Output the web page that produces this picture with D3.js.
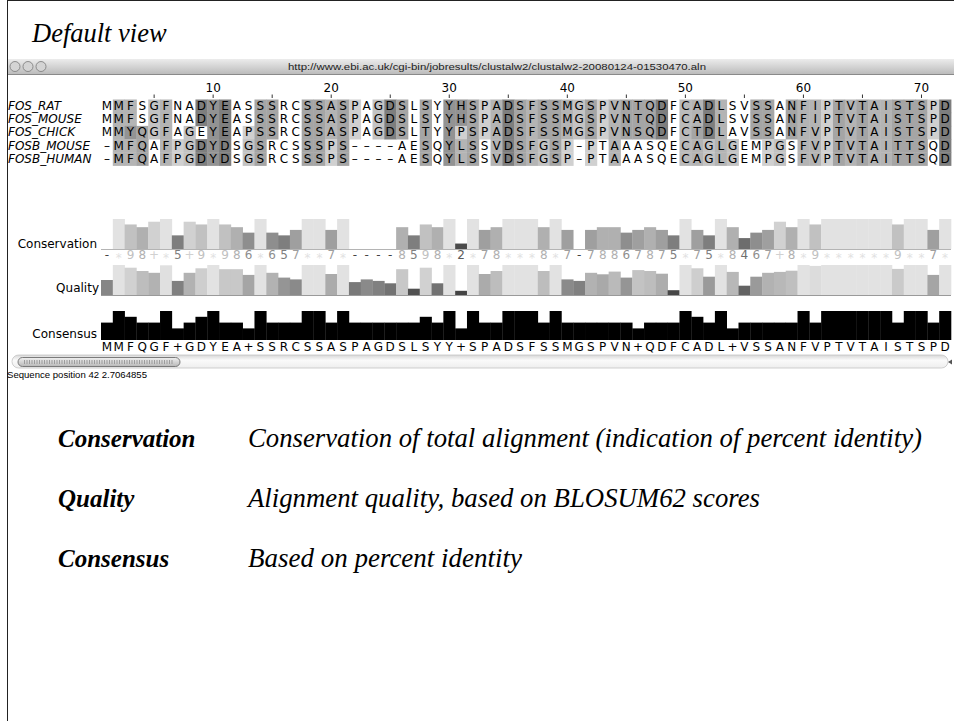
<!DOCTYPE html>
<html>
<head>
<meta charset="utf-8">
<script src="https://cdn.jsdelivr.net/npm/d3@7"></script>
<style>
  body { margin: 0; background: #fff; }
  svg { display: block; }
</style>
</head>
<body>
<div class="chart"></div>
<script>
// ---- data ----
const pageTitle = "Default view";
const windowUrl = "http://www.ebi.ac.uk/cgi-bin/jobresults/clustalw2/clustalw2-20080124-01530470.aln";
const statusText = "Sequence position 42  2.7064855";

const seqNames = ["FOS_RAT", "FOS_MOUSE", "FOS_CHICK", "FOSB_MOUSE", "FOSB_HUMAN"];
const seqResidues = [
  "MMFSGFNADYEASSSRCSSASPAGDSLSYYHSPADSFSSMGSPVNTQDFCADLSVSSANFIPTVTAISTSPD",
  "MMFSGFNADYEASSSRCSSASPAGDSLSYYHSPADSFSSMGSPVNTQDFCADLSVSSANFIPTVTAISTSPD",
  "MMYQGFAGEYEAPSSRCSSASPAGDSLTYYPSPADSFSSMGSPVNSQDFCTDLAVSSANFVPTVTAISTSPD",
  "-MFQAFPGDYDSGSRCSSSPS----AESQYLSSVDSFGSP-PTAAASQECAGLGEMPGSFVPTVTAITTSQD",
  "-MFQAFPGDYDSGSRCSSSPS----AESQYLSSVDSFGSP-PTAAASQECAGLGEMPGSFVPTVTAITTSQD"
];
// residue colour class of each cell (Clustal-style, printed in grey):
// . none, b hydrophobic, g polar, m negative, c aromatic, o glycine, y proline, p cysteine
const seqColourClass = [
  ".bb.ob..mcm..gg..ggbgy.omg.g.ccgybmgbggbogybgggm.pbmb..gg.gbbygbgbbgggym",
  ".bb.ob..mcm..gg..ggbgy.omg.g.ccgybmgbggbogybgggm.pbmb..gg.gbbygbgbbgggym",
  ".bcgob.o.cm.ygg..ggbgy.omg.g.cygybmgbggbogybgggm.pgmb..gg.gbbygbgbbgggym",
  ".bbg.byomcm.og...ggyg......g.cbg.bmgbogy.y.b.....pbobo..yo.bbygbgbbggg.m",
  ".bbg.byomcm.og...ggyg......g.cbg.bmgbogy.y.b.....pbobo..yo.bbygbgbbggg.m"
];

const rulerTicks = [5, 10, 15, 20, 25, 30, 35, 40, 45, 50, 55, 60, 65, 70];
const rulerLabels = [10, 20, 30, 40, 50, 60, 70];

const annotationNames = ["Conservation", "Quality", "Consensus"];
const conservationSymbols = "-*98+*5+9*986*657**7*----8598*2*78***8*7-78867875*75*8467+8*9******9**7*";
const conservationValues = [
  0, 11, 9, 8, 10, 11, 5, 10, 9, 11,
  9, 8, 6, 11, 6, 5, 7, 11, 11, 7,
  11, 0, 0, 0, 0, 8, 5, 9, 8, 11,
  2, 11, 7, 8, 11, 11, 11, 8, 11, 7,
  0, 7, 8, 8, 6, 7, 8, 7, 5, 11,
  7, 5, 11, 8, 4, 6, 7, 10, 8, 11,
  9, 11, 11, 11, 11, 11, 11, 9, 11, 11,
  7, 11
];
const qualityValues = [
  50, 100, 91, 80, 74, 99, 47, 74, 89, 100,
  86, 86, 67, 100, 74, 58, 52, 100, 100, 70,
  100, 43, 52, 47, 39, 86, 21, 91, 39, 100,
  14, 100, 70, 80, 100, 100, 100, 80, 100, 52,
  47, 74, 69, 78, 58, 83, 80, 71, 16, 100,
  89, 61, 100, 77, 31, 61, 74, 77, 81, 100,
  97, 100, 100, 100, 100, 100, 100, 87, 100, 100,
  67, 100
];
const consensusSymbols = "MMFQGF+GDYEA+SSRCSSASPAGDSLSYY+SPADSFSSMGSPVN+QDFCADL+VSSANFVPTVTAISTSPD";
const consensusPercent = [
  60, 100, 80, 60, 60, 100, 40, 60, 80, 100,
  60, 60, 40, 100, 60, 60, 60, 100, 100, 60,
  100, 60, 60, 60, 60, 60, 60, 80, 60, 100,
  40, 100, 60, 60, 100, 100, 100, 60, 100, 60,
  60, 60, 60, 60, 60, 40, 60, 60, 60, 100,
  80, 60, 100, 40, 60, 60, 60, 60, 60, 100,
  60, 100, 100, 100, 100, 100, 100, 60, 100, 100,
  60, 100
];

const legendTerms = ["Conservation", "Quality", "Consensus"];
const legendTexts = [
  "Conservation of total alignment (indication of percent identity)",
  "Alignment quality, based on BLOSUM62 scores",
  "Based on percent identity"
];

// ---- drawing ----
const W = 954, H = 721;
const seqFont = "'DejaVu Sans', Verdana, sans-serif";
const serif = "'Liberation Serif', 'Times New Roman', serif";

const svg = d3.select(".chart").append("svg")
  .attr("width", W).attr("height", H);

const defs = svg.append("defs");
const titleGrad = defs.append("linearGradient").attr("id", "titlebar").attr("x1", 0).attr("x2", 0).attr("y1", 0).attr("y2", 1);
titleGrad.append("stop").attr("offset", "0%").attr("stop-color", "#ececec");
titleGrad.append("stop").attr("offset", "100%").attr("stop-color", "#bcbcbc");
const trackGrad = defs.append("linearGradient").attr("id", "track").attr("x1", 0).attr("x2", 0).attr("y1", 0).attr("y2", 1);
trackGrad.append("stop").attr("offset", "0%").attr("stop-color", "#d8d8d8");
trackGrad.append("stop").attr("offset", "40%").attr("stop-color", "#fafafa");
trackGrad.append("stop").attr("offset", "100%").attr("stop-color", "#eeeeee");
const thumbGrad = defs.append("linearGradient").attr("id", "thumb").attr("x1", 0).attr("x2", 0).attr("y1", 0).attr("y2", 1);
thumbGrad.append("stop").attr("offset", "0%").attr("stop-color", "#f0f0f0");
thumbGrad.append("stop").attr("offset", "100%").attr("stop-color", "#b8b8b8");

// slide frame
svg.append("line").attr("x1", 7.5).attr("x2", 7.5).attr("y1", 0).attr("y2", H).attr("stroke", "#222");
svg.append("line").attr("x1", 7).attr("x2", W).attr("y1", 0.5).attr("y2", 0.5).attr("stroke", "#222");

svg.append("text")
  .attr("x", 32).attr("y", 42)
  .style("font-family", serif).style("font-style", "italic").style("font-size", "26.5px")
  .text(pageTitle);

// window title bar
const win = svg.append("g").attr("class", "window");
win.append("rect").attr("x", 8).attr("y", 59).attr("width", W - 8).attr("height", 15)
  .attr("fill", "url(#titlebar)");
win.append("line").attr("x1", 8).attr("x2", W).attr("y1", 74.5).attr("y2", 74.5).attr("stroke", "#8a8a8a");
win.selectAll("circle").data([15, 28, 41]).enter().append("circle")
  .attr("cx", d => d).attr("cy", 66.5).attr("r", 5)
  .attr("fill", "#d4d4d4").attr("stroke", "#7a7a7a").attr("stroke-width", 0.8);
win.append("text")
  .attr("x", 288).attr("y", 69.5)
  .attr("textLength", 418).attr("lengthAdjust", "spacingAndGlyphs")
  .style("font-family", "'Liberation Sans', Arial, sans-serif").style("font-size", "9px").style("fill", "#222")
  .text(windowUrl);

// column scale
const cols = d3.range(1, seqResidues[0].length + 1);
const x = d3.scaleBand().domain(cols).range([101, 951]);
const bw = x.bandwidth();
const y = d3.scaleBand().domain(seqNames).range([99.5, 165.5]);

// ruler
const ruler = svg.append("g").attr("class", "ruler");
ruler.selectAll("line").data(rulerTicks).enter().append("line")
  .attr("x1", d => x(d) + bw / 2).attr("x2", d => x(d) + bw / 2)
  .attr("y1", 94.5).attr("y2", 98).attr("stroke", "#333");
ruler.selectAll("text").data(rulerLabels).enter().append("text")
  .attr("x", d => x(d) + bw / 2).attr("y", 92)
  .attr("text-anchor", "middle")
  .style("font-family", seqFont).style("font-size", "12px")
  .text(d => d);

// sequence names
svg.append("g").selectAll("text").data(seqNames).enter().append("text")
  .attr("x", 8).attr("y", d => y(d) + 10.5)
  .style("font-family", seqFont).style("font-style", "italic").style("font-size", "12px")
  .text(d => d);

// residues
const shade = d3.scaleOrdinal()
  .domain([".", "b", "g", "m", "c", "o", "y", "p"])
  .range(["#ffffff", "#b4b4b4", "#a5a5a5", "#7e7e7e", "#939393", "#c3c3c3", "#d0d0d0", "#bababa"]);
const cells = [];
seqNames.forEach((name, r) => {
  cols.forEach((c, i) => {
    cells.push({ name, col: c, res: seqResidues[r][i], cls: seqColourClass[r][i] });
  });
});
const resG = svg.append("g").attr("class", "residues");
resG.selectAll("rect").data(cells.filter(d => d.cls !== ".")).enter().append("rect")
  .attr("x", d => x(d.col)).attr("y", d => y(d.name))
  .attr("width", bw + 0.4).attr("height", y.bandwidth() + 0.4)
  .attr("fill", d => shade(d.cls));
resG.selectAll("text").data(cells).enter().append("text")
  .attr("x", d => x(d.col) + bw / 2).attr("y", d => y(d.name) + 10.5)
  .attr("text-anchor", "middle")
  .style("font-family", seqFont).style("font-size", "12px")
  .text(d => d.res === "-" ? "\u2013" : d.res);

// annotation row labels
const annotBase = [248, 292, 338];
svg.append("g").selectAll("text").data(annotationNames).enter().append("text")
  .attr("x", (d, i) => i === 1 ? 99 : 97).attr("y", (d, i) => annotBase[i])
  .attr("text-anchor", "end")
  .style("font-family", seqFont).style("font-size", "12px")
  .text(d => d);

const grey = d3.scaleLinear().domain([0, 1]).range(["#2a2a2a", "#e2e2e2"]);

// conservation
const consY = d3.scaleLinear().domain([0, 11]).range([249, 219]);
const consG = svg.append("g").attr("class", "conservation");
consG.append("line").attr("x1", x(1)).attr("x2", x(72) + bw).attr("y1", 249.5).attr("y2", 249.5).attr("stroke", "#b4b4b4");
consG.selectAll("rect").data(conservationValues.map((v, i) => ({ col: i + 1, v }))).enter().append("rect")
  .attr("x", d => x(d.col)).attr("width", bw + 0.3)
  .attr("y", d => consY(d.v)).attr("height", d => consY(0) - consY(d.v))
  .attr("fill", d => grey(d.v / 11));
consG.selectAll("text").data(conservationSymbols.split("").map((s, i) => ({ col: i + 1, s, v: conservationValues[i] }))).enter().append("text")
  .attr("x", d => x(d.col) + bw / 2).attr("y", d => d.s === "*" ? 262 : 259)
  .attr("text-anchor", "middle")
  .style("font-family", seqFont).style("font-size", "12px")
  .style("fill", d => d.s === "-" ? "#444" : grey(Math.max(d.v, 3) / 11))
  .text(d => d.s);

// quality
const qualY = d3.scaleLinear().domain([0, 100]).range([295, 265]);
const qualG = svg.append("g").attr("class", "quality");
qualG.append("line").attr("x1", x(1)).attr("x2", x(72) + bw).attr("y1", 295.5).attr("y2", 295.5).attr("stroke", "#9a9a9a");
qualG.selectAll("rect").data(qualityValues.map((v, i) => ({ col: i + 1, v }))).enter().append("rect")
  .attr("x", d => x(d.col)).attr("width", bw + 0.3)
  .attr("y", d => qualY(d.v)).attr("height", d => qualY(0) - qualY(d.v))
  .attr("fill", d => grey(d.v / 100));

// consensus
const csY = d3.scaleLinear().domain([0, 100]).range([340, 311]);
const csG = svg.append("g").attr("class", "consensus");
csG.selectAll("rect").data(consensusPercent.map((v, i) => ({ col: i + 1, v }))).enter().append("rect")
  .attr("x", d => x(d.col)).attr("width", bw + 0.3)
  .attr("y", d => csY(d.v)).attr("height", d => csY(0) - csY(d.v))
  .attr("fill", "#000");
csG.selectAll("text").data(consensusSymbols.split("").map((s, i) => ({ col: i + 1, s }))).enter().append("text")
  .attr("x", d => x(d.col) + bw / 2).attr("y", 350.5)
  .attr("text-anchor", "middle")
  .style("font-family", seqFont).style("font-size", "12px")
  .text(d => d.s);

// scrollbar + status line
const sb = svg.append("g").attr("class", "scrollbar");
sb.append("rect").attr("x", 12).attr("y", 355).attr("width", 936).attr("height", 13).attr("rx", 6.5)
  .attr("fill", "url(#track)").attr("stroke", "#c4c4c4").attr("stroke-width", 0.8);
sb.append("rect").attr("x", 18).attr("y", 357.5).attr("width", 162).attr("height", 9).attr("rx", 4.5)
  .attr("fill", "url(#thumb)").attr("stroke", "#6e6e6e").attr("stroke-width", 0.9);
sb.append("line").attr("x1", 24).attr("x2", 174).attr("y1", 362).attr("y2", 362)
  .attr("stroke", "#9c9c9c").attr("stroke-width", 4).attr("stroke-dasharray", "1,1.5");
sb.append("path").attr("d", "M948,362 l4,-2.5 v5 z").attr("fill", "#555");

svg.append("text")
  .attr("x", 7).attr("y", 378)
  .attr("textLength", 140).attr("lengthAdjust", "spacingAndGlyphs")
  .style("font-family", "'Liberation Sans', Arial, sans-serif").style("font-size", "8.5px")
  .text(statusText);

// legend below the screenshot
const legendY = [447, 507, 567];
const legendWidths = [674, 512, 274];
const legend = svg.append("g").attr("class", "legend");
legend.selectAll("text.term").data(legendTerms).enter().append("text")
  .attr("class", "term")
  .attr("x", 58).attr("y", (d, i) => legendY[i])
  .style("font-family", serif).style("font-style", "italic").style("font-weight", "bold").style("font-size", "25px")
  .text(d => d);
legend.selectAll("text.desc").data(legendTexts).enter().append("text")
  .attr("class", "desc")
  .attr("x", 248).attr("y", (d, i) => legendY[i])
  .attr("textLength", (d, i) => legendWidths[i]).attr("lengthAdjust", "spacingAndGlyphs")
  .style("font-family", serif).style("font-style", "italic").style("font-size", "26.5px")
  .text(d => d);
</script>
</body>
</html>
